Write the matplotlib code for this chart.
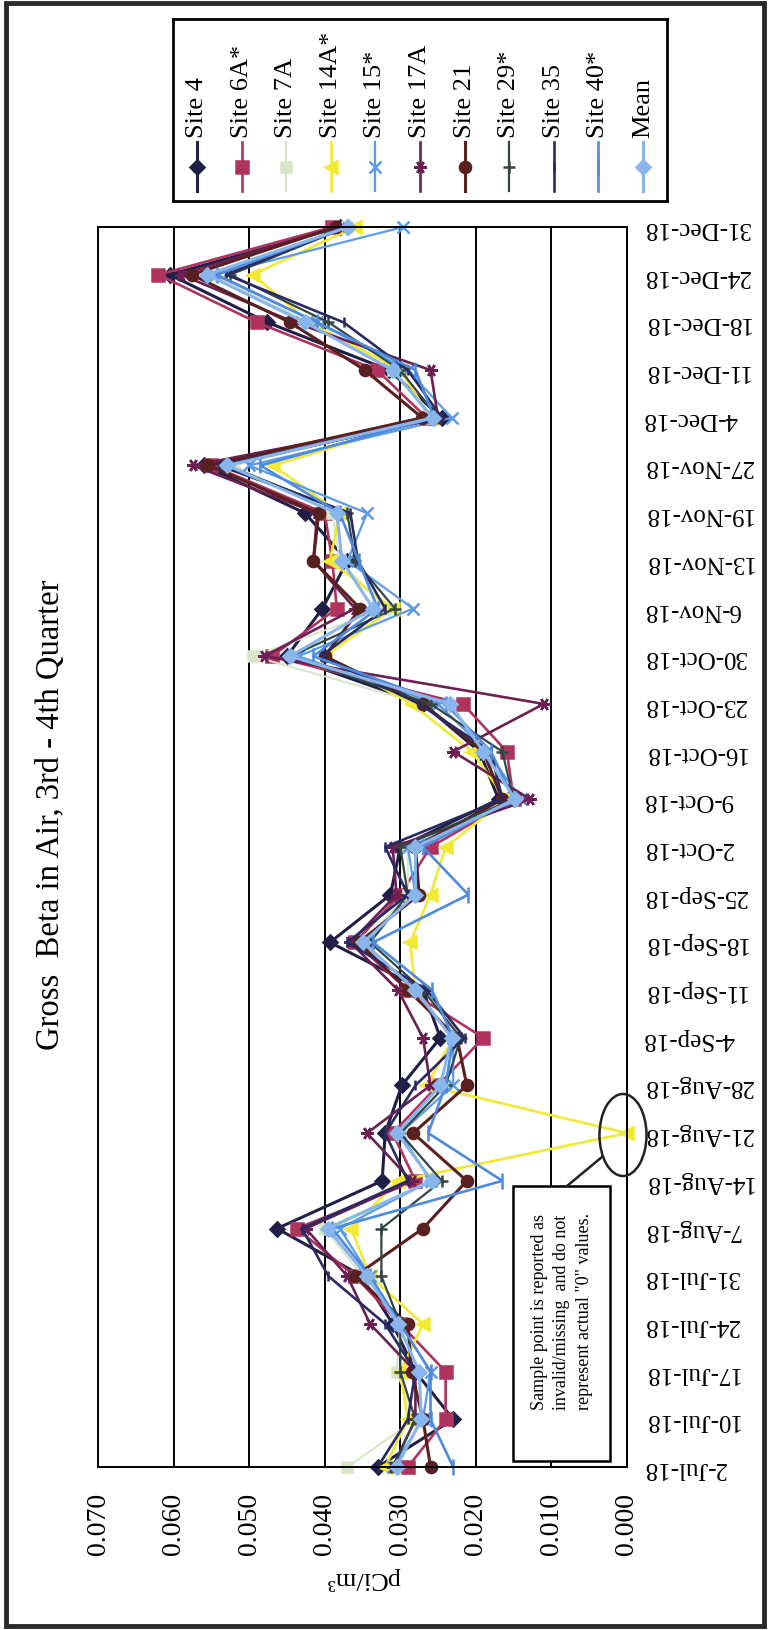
import matplotlib.pyplot as plt
import matplotlib.patches as patches
from matplotlib.lines import Line2D

plt.rcParams['font.family'] = ['Liberation Serif', 'DejaVu Serif']

dates = ['2-Jul-18', '10-Jul-18', '17-Jul-18', '24-Jul-18', '31-Jul-18', '7-Aug-18',
         '14-Aug-18', '21-Aug-18', '28-Aug-18', '4-Sep-18', '11-Sep-18', '18-Sep-18',
         '25-Sep-18', '2-Oct-18', '9-Oct-18', '16-Oct-18', '23-Oct-18', '30-Oct-18',
         '6-Nov-18', '13-Nov-18', '19-Nov-18', '27-Nov-18', '4-Dec-18', '11-Dec-18',
         '18-Dec-18', '24-Dec-18', '31-Dec-18']

site4 = [0.033, 0.023, 0.028, 0.031, 0.035, 0.0463, 0.0324, 0.032, 0.0298, 0.0247, 0.027, 0.0393, 0.0313, 0.030,
         0.017, 0.0195, 0.027, 0.045, 0.0403, 0.037, 0.0426, 0.056, 0.0245, 0.0315, 0.0476, 0.0605, 0.038]
site6a = [0.029, 0.024, 0.024, 0.030, 0.036, 0.0437, 0.028, 0.031, 0.025, 0.019, 0.029, 0.036, 0.030, 0.026,
          0.015, 0.0159, 0.0217, 0.047, 0.0384, 0.039, 0.040, 0.055, 0.0265, 0.0331, 0.049, 0.062, 0.039]
site7a = [0.037, 0.028, 0.0305, 0.030, 0.035, 0.040, 0.026, 0.030, 0.024, 0.023, 0.028, 0.035, 0.029, 0.029,
          0.016, 0.019, 0.027, 0.0495, 0.032, 0.038, 0.039, 0.052, 0.026, 0.031, 0.042, 0.055, 0.037]
site14a = [0.032, 0.029, 0.030, 0.027, 0.034, 0.0365, 0.0303, 0.000, 0.0265, 0.023, 0.028, 0.0287, 0.026, 0.024,
           0.016, 0.0205, 0.0285, 0.040, 0.031, 0.0393, 0.038, 0.0468, 0.026, 0.030, 0.042, 0.0495, 0.036]
site15 = [0.031, 0.027, 0.026, 0.030, 0.034, 0.038, 0.026, 0.030, 0.023, 0.023, 0.028, 0.035, 0.028, 0.029,
          0.014, 0.0185, 0.025, 0.0435, 0.0283, 0.037, 0.0344, 0.050, 0.0232, 0.029, 0.041, 0.0545, 0.0296]
site17a = [0.031, 0.028, 0.028, 0.034, 0.037, 0.0425, 0.0285, 0.0344, 0.026, 0.027, 0.0303, 0.0366, 0.0305, 0.031,
           0.0128, 0.023, 0.011, 0.048, 0.036, 0.0415, 0.041, 0.0574, 0.025, 0.026, 0.044, 0.059, 0.0385]
site21 = [0.026, 0.027, 0.0285, 0.029, 0.036, 0.027, 0.0212, 0.0283, 0.0212, 0.0225, 0.029, 0.0355, 0.0275, 0.028,
          0.0165, 0.019, 0.027, 0.040, 0.0353, 0.0415, 0.0408, 0.0554, 0.0271, 0.0347, 0.0446, 0.0576, 0.0385]
site29 = [0.031, 0.028, 0.030, 0.030, 0.0325, 0.0325, 0.0245, 0.030, 0.024, 0.022, 0.027, 0.034, 0.029, 0.030,
          0.015, 0.0165, 0.026, 0.0445, 0.0307, 0.036, 0.037, 0.053, 0.025, 0.030, 0.0395, 0.0525, 0.037]
site35 = [0.033, 0.029, 0.028, 0.032, 0.0395, 0.043, 0.029, 0.032, 0.028, 0.0215, 0.0265, 0.037, 0.029, 0.032,
          0.0165, 0.018, 0.0275, 0.0405, 0.032, 0.0356, 0.0366, 0.054, 0.0245, 0.029, 0.0375, 0.053, 0.0375]
site40 = [0.023, 0.026, 0.026, 0.030, 0.034, 0.039, 0.0165, 0.0263, 0.024, 0.023, 0.0258, 0.0336, 0.021, 0.027,
          0.015, 0.018, 0.024, 0.0415, 0.033, 0.0355, 0.038, 0.0485, 0.0255, 0.028, 0.041, 0.0543, 0.037]
mean = [0.0305, 0.0272, 0.0275, 0.0303, 0.0344, 0.0396, 0.0258, 0.0304, 0.0247, 0.0232, 0.028, 0.0349, 0.028, 0.028,
        0.0148, 0.019, 0.0234, 0.0446, 0.0336, 0.0377, 0.0384, 0.0529, 0.0257, 0.031, 0.0426, 0.0556, 0.0369]

value_ticks = [0.0, 0.01, 0.02, 0.03, 0.04, 0.05, 0.06, 0.07]

series = [
    ('Site 4', site4, '#1f1f48', 'D', 7, 2.2),
    ('Site 6A*', site6a, '#b0335e', 's', 8, 1.9),
    ('Site 7A', site7a, '#d6e6c6', 's', 7, 1.4),
    ('Site 14A*', site14a, '#f2e935', '<', 8, 1.9),
    ('Site 15*', site15, '#5b9bea', 'x', 8, 1.6),
    ('Site 17A', site17a, '#6b1f52', (6, 2, 90), 9, 1.9),
    ('Site 21', site21, '#5a1f1f', 'o', 8, 2.2),
    ('Site 29*', site29, '#324646', '+', 9, 1.6),
    ('Site 35', site35, '#2a2a62', '|', 7, 1.9),
    ('Site 40*', site40, '#4d8ae0', '|', 11, 1.9),
    ('Mean', mean, '#88b6ec', 'D', 7, 2.2),
]

W, H = 770, 1631


def fx(px):
    return px / W


def fy(py):
    return 1 - py / H


fig = plt.figure(figsize=(W / 100, H / 100), dpi=100)

# main plot (chart is turned on its side: dates run bottom to top)
ax = fig.add_axes([fx(98), fy(1468), (627 - 98) / W, (1468 - 228) / H])
pos = list(range(len(dates)))
for name, vals, col, mk, ms, lw in series:
    ax.plot(vals, pos, color=col, marker=mk, markersize=ms, lw=lw,
            markeredgewidth=1.8, clip_on=False, label=name)

ax.set_xlim(0.07, 0.0)
ax.set_ylim(0, len(dates) - 1)
ax.set_xticks(value_ticks)
ax.set_xticklabels([f'{v:.3f}' for v in value_ticks], rotation=90, fontsize=20)
ax.grid(axis='x', color='black', lw=1.4)
ax.set_axisbelow(True)
ax.yaxis.tick_right()
ax.set_yticks(pos)
ax.set_yticklabels(dates, rotation=180, fontsize=18, va='center')
ax.tick_params(axis='both', length=0)
ax.tick_params(axis='x', pad=18)
ax.tick_params(axis='y', pad=11.5)
for s in ax.spines.values():
    s.set_linewidth(1.4)
    s.set_color('black')

fig.text(fx(51), fy(815), 'Gross  Beta in Air, 3rd - 4th Quarter', rotation=90,
         ha='center', va='center', fontsize=23.5)
fig.text(fx(363), fy(1579), 'pCi/m³', rotation=180, ha='center', va='center', fontsize=19)

# legend, drawn by hand because its entries are rotated
lax = fig.add_axes([fx(173), fy(202), (667 - 173) / W, (202 - 20) / H])
lax.set_xlim(0, 494)
lax.set_ylim(182, 0)
lax.set_xticks([])
lax.set_yticks([])
for s in lax.spines.values():
    s.set_linewidth(2)
for k, (name, vals, col, mk, ms, lw) in enumerate(series):
    x = 24 + k * 44.6
    lax.plot([x, x], [123, 172], color=col, lw=lw)
    lax.plot([x], [148], color=col, marker=mk, markersize=ms, markeredgewidth=1.8)
    lax.text(x, 118, name, rotation=90, ha='center', va='bottom', fontsize=19)

# note about the invalid sample
box = patches.Rectangle((fx(513), fy(1462)), (610 - 513) / W, (1462 - 1187) / H,
                        transform=fig.transFigure, facecolor='white', edgecolor='black', lw=1.8, zorder=5)
fig.add_artist(box)
fig.text(fx(562), fy(1312), 'Sample point is reported as\ninvalid/missing  and do not\nrepresent actual "0" values.',
         rotation=90, ha='center', va='center', fontsize=13, linespacing=1.4, zorder=6)
ell = patches.Ellipse((fx(623), fy(1136)), 47 / W, 82 / H, transform=fig.transFigure,
                      fill=False, edgecolor='#222222', lw=1.8, zorder=6)
fig.add_artist(ell)
fig.add_artist(Line2D([fx(602), fx(567)], [fy(1158), fy(1187)], transform=fig.transFigure,
                      color='#222222', lw=1.8, zorder=6))

frame = patches.Rectangle((fx(6), fy(1627)), (764 - 6) / W, (1627 - 4) / H, transform=fig.transFigure,
                          fill=False, edgecolor='#2a2a2a', lw=3.5)
fig.add_artist(frame)

fig.savefig('out.png', dpi=100)
